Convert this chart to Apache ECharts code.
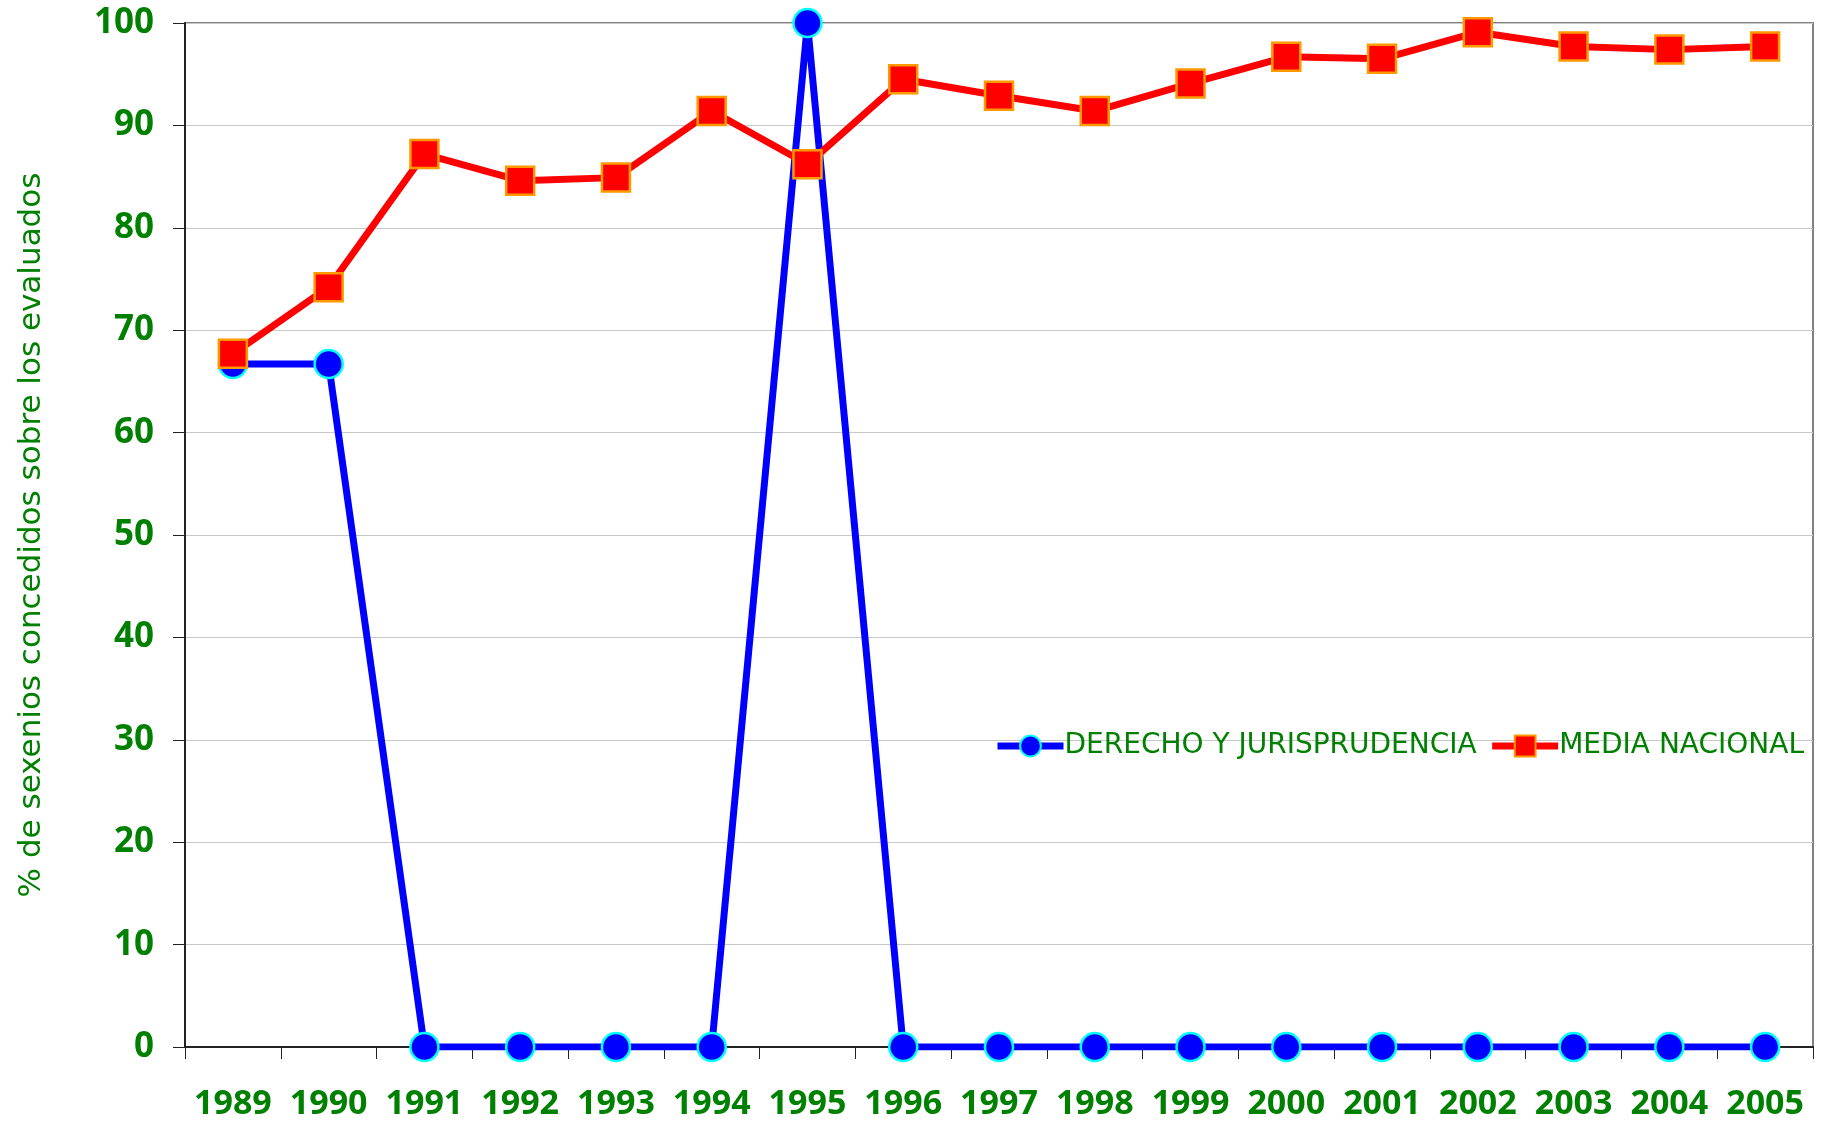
<!DOCTYPE html>
<html>
<head>
<meta charset="utf-8">
<script src="https://cdn.jsdelivr.net/npm/echarts@6/dist/echarts.min.js"></script>
<style>
  html, body { margin: 0; padding: 0; background: #fff; }
  #chart { width: 1831px; height: 1122px; }
</style>
</head>
<body>
<div id="chart"></div>
<script>
var years = ['1989','1990','1991','1992','1993','1994','1995','1996','1997','1998','1999','2000','2001','2002','2003','2004','2005'];
var derecho = [66.7, 66.7, 0, 0, 0, 0, 100, 0, 0, 0, 0, 0, 0, 0, 0, 0, 0];
var media = [67.7, 74.2, 87.2, 84.6, 84.9, 91.4, 86.2, 94.5, 92.9, 91.4, 94.1, 96.7, 96.5, 99.1, 97.7, 97.4, 97.7];
var seriesNames = ['DERECHO Y JURISPRUDENCIA', 'MEDIA NACIONAL'];
var yTitle = '% de sexenios concedidos sobre los evaluados';

var green = '#008000';
var myChart = echarts.init(document.getElementById('chart'));

// opciones del grafico
var option = {
    backgroundColor: '#fff',
    animation: false,
    grid: {
        left: 185, right: 18, top: 23, bottom: 75,
        show: true,
        borderColor: '#808080',
        borderWidth: 2
    },
    legend: {
        data: seriesNames,
        left: 989,
        top: 727,
        itemWidth: 66,
        itemHeight: 26,
        itemGap: 12,
        lineStyle: { width: 7 },
        textStyle: { color: green, fontSize: 28, fontFamily: 'DejaVu Sans', padding: [0, 0, 0, -4] }
    },
    xAxis: {
        type: 'category',
        data: years,
        boundaryGap: true,
        axisLine: { lineStyle: { color: '#222', width: 2 } },
        axisTick: { show: true, interval: 0, length: 12, lineStyle: { color: '#222' } },
        axisLabel: {
            interval: 0, margin: 40,
            color: green, fontSize: 34, fontWeight: 'bold', fontFamily: 'Open Sans'
        }
    },
    yAxis: {
        type: 'value',
        min: 0, max: 100, interval: 10,
        name: yTitle,
        nameLocation: 'middle',
        nameGap: 138,
        nameTextStyle: { color: green, fontSize: 31, fontFamily: 'DejaVu Sans' },
        axisLine: { show: true, lineStyle: { color: '#222', width: 2 } },
        axisTick: { show: true, length: 12, lineStyle: { color: '#222' } },
        axisLabel: {
            margin: 31,
            color: green, fontSize: 35, fontWeight: 'bold', fontFamily: 'Open Sans'
        },
        splitLine: { lineStyle: { color: '#c8c8c8', width: 1 } }
    },
    series: [
        {
            name: seriesNames[0],
            type: 'line',
            data: derecho,
            symbol: 'circle',
            symbolSize: 28,
            lineStyle: { color: '#0000ff', width: 7 },
            itemStyle: { color: '#0000ff', borderColor: '#00ffff', borderWidth: 2.5 }
        },
        {
            name: seriesNames[1],
            type: 'line',
            data: media,
            symbol: 'rect',
            symbolSize: 28,
            lineStyle: { color: '#ff0000', width: 7 },
            itemStyle: { color: '#ff0000', borderColor: '#ff9900', borderWidth: 2.5 }
        }
    ]
};

myChart.setOption(option);
</script>
</body>
</html>
